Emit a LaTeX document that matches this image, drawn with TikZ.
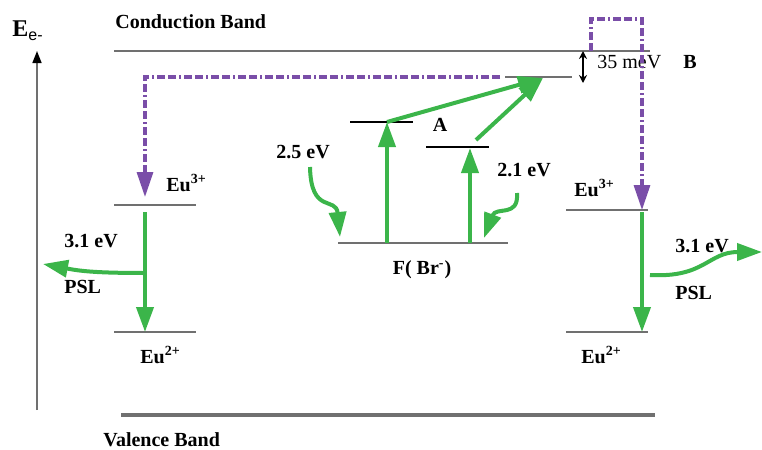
\documentclass[tikz,border=0pt]{standalone}
\usepackage{fontspec}
\setmainfont{Liberation Serif}
\setsansfont{Liberation Sans}
\usepackage{tikz}
\usetikzlibrary{arrows.meta, positioning, calc}
\definecolor{mygreen}{RGB}{59,181,74}
\definecolor{mypurple}{RGB}{122,78,168}
\definecolor{mygray}{RGB}{112,112,112}
\tikzset{
  band/.style={draw=mygray, line width=1.3pt},
  level/.style={draw=mygray, line width=0.7pt},
  greenarrow/.style={-{Triangle[length=12.5pt,width=8.5pt]}, draw=mygreen, line width=2pt},
  purplearrow/.style={-{Triangle[length=12.5pt,width=8pt]}, draw=mypurple, line width=1.6pt,
    dash pattern=on 4pt off 1.5pt on 4pt off 1.5pt on 1pt off 1.5pt},
  lbl/.style={font=\bfseries, inner sep=0pt, anchor=west},
  plain/.style={inner sep=0pt, anchor=west}
}

\begin{document}
\begin{tikzpicture}[x=0.5pt, y=-0.5pt]
  \useasboundingbox (0,0) rectangle (762,450);

  % Energy axis
  \coordinate (axbot) at (37,410);
  \coordinate (axtop) at (37,51);
  \draw[draw=mygray, line width=0.8pt, -{Triangle[length=6pt,width=4.5pt,color=black]}] (axbot) -- (axtop);
  \node[plain] (eaxis) at (12,31) {\large\bfseries E\textsubscript{\normalfont\sffamily e-}};

  % Bands
  \coordinate (cbl) at (114,51);
  \coordinate (cbr) at (650,51);
  \coordinate (vbl) at (121,415);
  \coordinate (vbr) at (655,415);
  \draw[band] (cbl) -- (cbr);
  \draw[band, line width=1.6pt] (vbl) -- (vbr);
  \node[lbl] (cbtxt) at (115,22) {Conduction Band};
  \node[lbl] (vbtxt) at (103,440) {Valence Band};

  % Level B below the conduction band
  \coordinate (bl) at (505,77);
  \coordinate (br) at (572,77);
  \coordinate (btip) at (543,78);
  \draw[level] (bl) -- (br);
  \coordinate (gaptop) at (583,51);
  \coordinate (gapbot) at (583,83);
  \draw[{Stealth[length=4pt,width=4pt]}-{Stealth[length=4pt,width=4pt]}, line width=0.8pt] (gaptop) -- (gapbot);
  \node[plain] (mev) at (597,62) {35 meV};
  \node[lbl] (btxt) at (683,62) {B};

  % F(Br-) centre and its excited levels
  \coordinate (fl) at (338,243);
  \coordinate (fr) at (508,243);
  \draw[level] (fl) -- (fr);
  \node[font=\bfseries, inner sep=0pt] (ftxt) at (422,270) {F( Br\textsuperscript{-})};
  \coordinate (a1l) at (350,122);
  \coordinate (a1r) at (413,122);
  \coordinate (a2l) at (426,147);
  \coordinate (a2r) at (489,147);
  \draw[level, draw=black] (a1l) -- (a1r);
  \draw[level, draw=black] (a2l) -- (a2r);
  \node[font=\bfseries, inner sep=0pt] (atxt) at (440,125) {A};

  % Excitation arrows
  \coordinate (ex1b) at (387,243);
  \coordinate (ex1t) at (387,122);
  \coordinate (ex2b) at (470,243);
  \coordinate (ex2t) at (470,148);
  \draw[greenarrow] (ex1b) -- (ex1t);
  \draw[greenarrow] (ex2b) -- (ex2t);
  \draw[greenarrow] (ex1t) -- (btip);
  \coordinate (ex2s) at (476,140);
  \draw[greenarrow] (ex2s) -- (btip);

  % Stimulating light
  \node[lbl] (e25) at (276,152) {2.5 eV};
  \node[lbl] (e21) at (497,170) {2.1 eV};
  \coordinate (s1a) at (310,167);
  \coordinate (s1b) at (340,237);
  \coordinate (s2a) at (517,193);
  \coordinate (s2b) at (484,238);
  \draw[greenarrow] (s1a) .. controls (311,215) and (336,196) .. (s1b);
  \draw[greenarrow] (s2a) .. controls (519,218) and (496,206) .. (s2b);

  % Left Eu centre
  \coordinate (l3l) at (114,205);
  \coordinate (l3r) at (196,205);
  \coordinate (l2l) at (114,332);
  \coordinate (l2r) at (196,332);
  \draw[level] (l3l) -- (l3r);
  \draw[level] (l2l) -- (l2r);
  \node[lbl] (leu3) at (166,183) {Eu\textsuperscript{3+}};
  \node[lbl] (leu2) at (140,355) {Eu\textsuperscript{2+}};
  \coordinate (ldt) at (145,212);
  \coordinate (ldb) at (145,332);
  \draw[greenarrow] (ldt) -- (ldb);
  \coordinate (lps) at (145,273);
  \coordinate (lpt) at (43,264);
  \draw[greenarrow] (lps) .. controls (95,273) and (80,271) .. (lpt);
  \node[lbl] (l31) at (64,241) {3.1 eV};
  \node[lbl] (lpsl) at (64,287) {PSL};

  % Right Eu centre
  \coordinate (r3l) at (566,210);
  \coordinate (r3r) at (648,210);
  \coordinate (r2l) at (566,332);
  \coordinate (r2r) at (648,332);
  \draw[level] (r3l) -- (r3r);
  \draw[level] (r2l) -- (r2r);
  \node[lbl] (reu3) at (574,188) {Eu\textsuperscript{3+}};
  \node[lbl] (reu2) at (581,355) {Eu\textsuperscript{2+}};
  \coordinate (rdt) at (642,212);
  \coordinate (rdb) at (642,332);
  \draw[greenarrow] (rdt) -- (rdb);
  \coordinate (rps) at (650,275);
  \coordinate (rpt) at (762,252);
  \draw[greenarrow] (rps) .. controls (705,278) and (708,252) .. (rpt);
  \node[lbl] (r31) at (675,246) {3.1 eV};
  \node[lbl] (rpsl) at (675,293) {PSL};

  % Electron transfer paths
  \coordinate (lpa) at (500,77);
  \coordinate (lpb) at (145,77);
  \coordinate (lpc) at (145,197);
  \draw[purplearrow] (lpa) -- (lpb) -- (lpc);
  \coordinate (rpa) at (591,51);
  \coordinate (rpb) at (591,19);
  \coordinate (rpc) at (642,19);
  \coordinate (rpd) at (642,210);
  \draw[purplearrow] (rpa) -- (rpb) -- (rpc) -- (rpd);
\end{tikzpicture}
\end{document}
